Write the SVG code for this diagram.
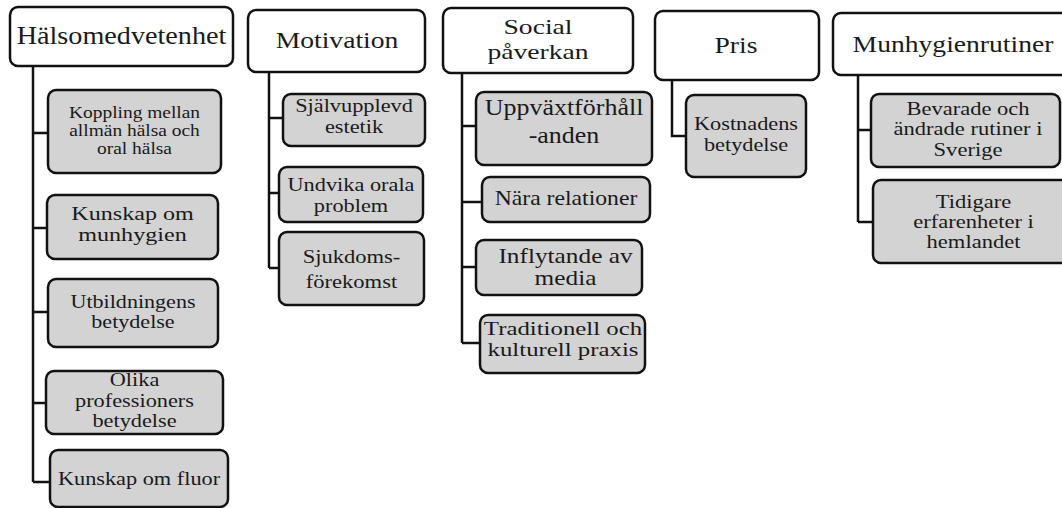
<svg xmlns="http://www.w3.org/2000/svg" width="1062" height="508" viewBox="0 0 1062 508">
<style>
  .hdr rect { fill: #ffffff; stroke: #111; stroke-width: 2.5; }
  .sub rect { fill: #d3d3d3; stroke: #111; stroke-width: 2.5; }
  text { font-family: "Liberation Serif", "Times New Roman", serif; fill: #1a1a1a; text-anchor: middle; }
  .hdr text { font-size: 24px; }
  #connectors path { fill: none; stroke: #111; stroke-width: 2.5; }
</style>
<rect x="0" y="0" width="1062" height="508" fill="#ffffff"/>

<g id="connectors">
  <path d="M33,66 V482 M33,133 H48 M33,228 H47 M33,312 H48 M33,403 H46 M33,482 H50"/>
  <path d="M269,72 V268 M269,118 H283 M269,193 H279 M269,268 H279"/>
  <path d="M462,73 V343 M462,126 H476 M462,202 H482 M462,267 H476 M462,343 H480"/>
  <path d="M672,80 V136 H686"/>
  <path d="M858,75 V222 M858,130 H871 M858,222 H873"/>
</g>

<!-- Headers -->
<g id="h-halso" class="hdr">
  <rect x="10" y="7" width="223" height="59" rx="8"/>
  <text transform="matrix(1.15 0 0 1 121.5 0)" style="font-size:24.5px"><tspan x="0" y="44.5">Hälsomedvetenhet</tspan></text>
</g>
<g id="h-motivation" class="hdr">
  <rect x="248" y="10" width="177" height="62" rx="8"/>
  <text transform="matrix(1.15 0 0 1 337 0)"><tspan x="0" y="48.5">Motivation</tspan></text>
</g>
<g id="h-social" class="hdr">
  <rect x="443" y="8" width="190" height="65" rx="8"/>
  <text transform="matrix(1.255 0 0 1 538 0)" style="font-size:22px"><tspan x="0" y="34">Social</tspan><tspan x="0" y="59">påverkan</tspan></text>
</g>
<g id="h-pris" class="hdr">
  <rect x="655" y="11" width="164" height="69" rx="8"/>
  <text transform="matrix(1.15 0 0 1 736 0)"><tspan x="0" y="53">Pris</tspan></text>
</g>
<g id="h-munhyg" class="hdr">
  <rect x="833" y="13" width="240" height="62" rx="8"/>
  <text transform="matrix(1.15 0 0 1 953 0)"><tspan x="0" y="52">Munhygienrutiner</tspan></text>
</g>

<!-- Hälsomedvetenhet children -->
<g id="n-koppling" class="sub">
  <rect x="48" y="90" width="173" height="83" rx="8"/>
  <text transform="matrix(1.2 0 0 1 134.5 0)" style="font-size:16.2px"><tspan x="0" y="118.5">Koppling mellan</tspan><tspan x="0" y="136.5">allmän hälsa och</tspan><tspan x="0" y="154.5">oral hälsa</tspan></text>
</g>
<g id="n-kunskap-munhygien" class="sub">
  <rect x="47" y="195" width="171" height="64" rx="8"/>
  <text transform="matrix(1.27 0 0 1 132.5 0)" style="font-size:19px"><tspan x="0" y="220">Kunskap om</tspan><tspan x="0" y="241">munhygien</tspan></text>
</g>
<g id="n-utbildning" class="sub">
  <rect x="48" y="279" width="170" height="68" rx="8"/>
  <text transform="matrix(1.227 0 0 1 133 0)" style="font-size:18px"><tspan x="0" y="308">Utbildningens</tspan><tspan x="0" y="328.5">betydelse</tspan></text>
</g>
<g id="n-olika" class="sub">
  <rect x="46" y="371" width="177" height="63" rx="8"/>
  <text transform="matrix(1.24 0 0 1 134.5 0)" style="font-size:18px"><tspan x="0" y="386.5">Olika</tspan><tspan x="0" y="406.8">professioners</tspan><tspan x="0" y="427">betydelse</tspan></text>
</g>
<g id="n-fluor" class="sub">
  <rect x="50" y="450" width="178" height="57" rx="8"/>
  <text transform="matrix(1.15 0 0 1 139 0)" style="font-size:19.4px"><tspan x="0" y="485">Kunskap om fluor</tspan></text>
</g>

<!-- Motivation children -->
<g id="n-estetik" class="sub">
  <rect x="283" y="94" width="142" height="52" rx="8"/>
  <text transform="matrix(1.2 0 0 1 354 0)" style="font-size:18.6px"><tspan x="0" y="112.5">Självupplevd</tspan><tspan x="0" y="133.5">estetik</tspan></text>
</g>
<g id="n-undvika" class="sub">
  <rect x="279" y="167" width="144" height="55" rx="8"/>
  <text transform="matrix(1.24 0 0 1 351 0)" style="font-size:18px"><tspan x="0" y="191.5">Undvika orala</tspan><tspan x="0" y="212">problem</tspan></text>
</g>
<g id="n-sjukdom" class="sub">
  <rect x="279" y="232" width="145" height="73" rx="8"/>
  <text transform="matrix(1.15 0 0 1 351.5 0)" style="font-size:19.6px"><tspan x="0" y="263.3">Sjukdoms-</tspan><tspan x="0" y="288.3">förekomst</tspan></text>
</g>

<!-- Social påverkan children -->
<g id="n-uppvaxt" class="sub">
  <rect x="476" y="92" width="176" height="73" rx="8"/>
  <text transform="matrix(1.15 0 0 1 564 0)" style="font-size:22.6px"><tspan x="0" y="115">Uppväxtförhåll</tspan><tspan x="0" y="143.3">-anden</tspan></text>
</g>
<g id="n-nara" class="sub">
  <rect x="482" y="177" width="168" height="45" rx="8"/>
  <text transform="matrix(1.15 0 0 1 566 0)" style="font-size:20.6px"><tspan x="0" y="205">Nära relationer</tspan></text>
</g>
<g id="n-media" class="sub">
  <rect x="476" y="240" width="166" height="55" rx="8"/>
  <text transform="matrix(1.265 0 0 1 565.5 0)" style="font-size:20px"><tspan x="0" y="263">Inflytande av</tspan><tspan x="0" y="285.5">media</tspan></text>
</g>
<g id="n-tradition" class="sub">
  <rect x="480" y="315" width="165" height="58" rx="8"/>
  <text transform="matrix(1.307 0 0 1 563 0)" style="font-size:19px"><tspan x="0" y="335.5">Traditionell och</tspan><tspan x="0" y="356.5">kulturell praxis</tspan></text>
</g>

<!-- Pris child -->
<g id="n-kostnad" class="sub">
  <rect x="686" y="95" width="120" height="82" rx="8"/>
  <text transform="matrix(1.24 0 0 1 746 0)" style="font-size:18px"><tspan x="0" y="130.5">Kostnadens</tspan><tspan x="0" y="151">betydelse</tspan></text>
</g>

<!-- Munhygienrutiner children -->
<g id="n-bevarade" class="sub">
  <rect x="871" y="94" width="189" height="73" rx="8"/>
  <text transform="matrix(1.218 0 0 1 968 0)" style="font-size:18.5px"><tspan x="0" y="115">Bevarade och</tspan><tspan x="0" y="135.5">ändrade rutiner i</tspan><tspan x="0" y="156">Sverige</tspan></text>
</g>
<g id="n-tidigare" class="sub">
  <rect x="873" y="180" width="200" height="83" rx="8"/>
  <text transform="matrix(1.238 0 0 1 973.5 0)" style="font-size:18.2px"><tspan x="0" y="208">Tidigare</tspan><tspan x="0" y="228.3">erfarenheter i</tspan><tspan x="0" y="248.5">hemlandet</tspan></text>
</g>
</svg>
